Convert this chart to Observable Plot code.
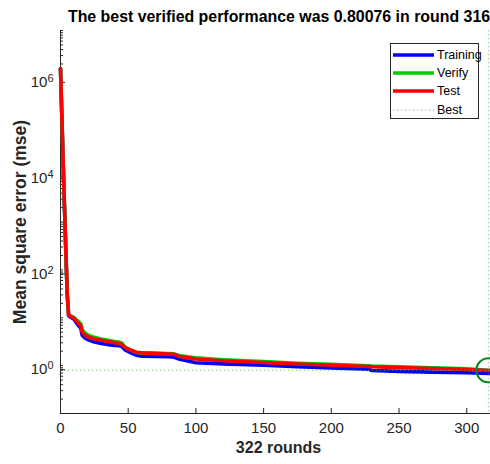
<!DOCTYPE html>
<html><head><meta charset="utf-8">
<script src="https://cdn.jsdelivr.net/npm/d3@7"></script>
<script src="https://cdn.jsdelivr.net/npm/@observablehq/plot@0.6"></script>
<style>
html,body{margin:0;padding:0;overflow:hidden;background:#fff;width:490px;height:464px}
#wrap{position:relative;width:500px;font-family:"Liberation Sans",Arial,sans-serif}
#title{height:28px;padding:8px 4px 0 62px;box-sizing:border-box;text-align:center;font-weight:bold;font-size:15.9px;line-height:18px;color:#000;white-space:nowrap}
#legend{position:absolute;left:390px;top:43px;width:89px;height:76px;border:1px solid #262626;background:#fff;box-sizing:border-box;font-size:12.5px;color:#000}
#legend .row{position:absolute;left:0;height:16px;width:88px}
#legend svg{position:absolute;left:2px;top:0}
#legend span{position:absolute;left:46px;top:0;line-height:16px;white-space:nowrap}
</style></head>
<body>
<div id="wrap">
  <div id="title">The best verified performance was 0.80076 in round 316</div>
  <div id="chart"></div>
  <div id="legend"></div>
</div>
<script>
// Data
const rounds   = [0, 1, 2, 3, 4, 5, 6, 8, 10, 11, 13, 15, 16, 18, 20, 25, 30, 35, 40, 43, 45, 48, 52, 56, 60, 70, 80, 84, 88, 95, 100, 120, 150, 175, 200, 228, 230, 250, 275, 300, 316, 322];
const training = [1.6e6, 1.6e5, 1.6e4, 1.8e3, 220, 30, 11, 10, 9.3, 8.4, 7.0, 6.0, 4.3, 3.8, 3.5, 3.1, 2.9, 2.75, 2.65, 2.6, 2.55, 2.1, 1.85, 1.65, 1.58, 1.55, 1.53, 1.5, 1.36, 1.24, 1.15, 1.09, 1.02, 0.95, 0.89, 0.84, 0.79, 0.76, 0.73, 0.71, 0.69, 0.69];
const verify   = [1.6e6, 1.6e5, 1.6e4, 1.8e3, 220, 30, 11.5, 10.8, 10.1, 9.4, 8.5, 7.5, 5.6, 4.9, 4.4, 3.9, 3.6, 3.4, 3.2, 3.1, 3.0, 2.4, 2.1, 1.88, 1.82, 1.8, 1.78, 1.76, 1.62, 1.52, 1.45, 1.33, 1.22, 1.12, 1.06, 0.99, 0.98, 0.95, 0.9, 0.86, 0.80076, 0.80];
const test     = [1.6e6, 1.6e5, 1.6e4, 1.8e3, 220, 30, 11.5, 10.5, 9.8, 9.0, 7.8, 6.8, 5.0, 4.4, 4.0, 3.6, 3.4, 3.2, 3.0, 2.9, 2.8, 2.35, 2.1, 1.9, 1.85, 1.8, 1.75, 1.72, 1.55, 1.45, 1.38, 1.26, 1.16, 1.08, 1.02, 0.96, 0.95, 0.91, 0.87, 0.83, 0.79, 0.78];
const seriesNames  = ["Training", "Verify", "Test"];
const seriesColors = ["#0000ff", "#00cc00", "#ff0000"];
const bestRound = 316;
const bestValue = 0.80076;
const totalRounds = 322;
const xTicks = [0, 50, 100, 150, 200, 250, 300];
const yExponents = [0, 2, 4, 6];
const yLabel = "Mean square error (mse)";
const xLabel = "322 rounds";

const seriesValues = [training, verify, test];
const rows = [];
seriesNames.forEach((name, i) => rounds.forEach((r, j) => rows.push({round: r, value: seriesValues[i][j], series: name})));

const majorY = yExponents.map(e => Math.pow(10, e));
const minorY = [];
for (let e = -1; e < 7; e++) for (let k = 1; k <= 9; k++) minorY.push(k * Math.pow(10, e));
minorY.push(1e7);

const axisColor = "#262626";
const chart = Plot.plot({
  width: 500, height: 436,
  marginTop: 2, marginBottom: 51, marginLeft: 60, marginRight: 4,
  style: {fontFamily: "'Liberation Sans', Arial, sans-serif", fontSize: "15px", color: axisColor, background: "white", overflow: "visible"},
  x: {domain: [0, totalRounds]},
  y: {type: "log", domain: [0.1, 1e7]},
  color: {domain: seriesNames, range: seriesColors},
  marks: [
    Plot.axisY(minorY, {tickSize: -3, tickFormat: () => "", stroke: axisColor, label: null}),
    Plot.axisY(majorY, {tickSize: -5, tickPadding: 12, dy: 4, tickFormat: d => "10^" + Math.round(Math.log10(d)), fill: axisColor, stroke: axisColor, label: null, fontSize: 15}),
    Plot.axisX(xTicks, {tickSize: -5, tickPadding: 14, fill: axisColor, stroke: axisColor, label: null, fontSize: 15}),
    Plot.ruleX([0], {stroke: axisColor}),
    Plot.ruleY([0.1], {stroke: axisColor}),
    Plot.line(rows, {x: "round", y: "value", z: "series", stroke: "series", strokeWidth: 3.6, strokeLinejoin: "round", strokeLinecap: "round"}),
    Plot.ruleY([bestValue], {stroke: "#3fb83f", strokeOpacity: 0.75, strokeDasharray: "1.2,2.8", strokeWidth: 1}),
    Plot.ruleX([bestRound], {stroke: "#3fb83f", strokeOpacity: 0.75, strokeDasharray: "1.2,2.8", strokeWidth: 1}),
    Plot.dot([{round: bestRound, value: bestValue}], {x: "round", y: "value", r: 12, stroke: "#0a8a1a", strokeWidth: 2.2, fill: "none"}),
    Plot.text([xLabel], {frameAnchor: "bottom", dy: 39, fontWeight: "bold", fontSize: 16, fill: "#262626"}),
    Plot.text([yLabel], {frameAnchor: "left", textAnchor: "middle", dx: -40, rotate: -90, fontWeight: "bold", fontSize: 17.5, fill: "#262626"})
  ]
});
document.getElementById("chart").appendChild(chart);

// Superscript exponents on the y tick labels
d3.select(chart).selectAll('g[aria-label="y-axis tick label"] text').each(function () {
  const t = this.textContent;
  if (!t.includes("^")) return;
  const [base, exp] = t.split("^");
  const sel = d3.select(this);
  sel.text(null);
  sel.append("tspan").text(base);
  sel.append("tspan").attr("dy", "-5").attr("font-size", "11px").text(exp);
});

// Legend
const legend = document.getElementById("legend");
const legendItems = seriesNames.map((n, i) => ({name: n, color: seriesColors[i], dash: null}))
  .concat([{name: "Best", color: "#3fb83f", dash: "1.2,2.8"}]);
const rowTops = [3, 21, 39, 58];
legendItems.forEach((it, i) => {
  const row = document.createElement("div");
  row.className = "row";
  row.style.top = rowTops[i] + "px";
  const w = it.dash ? 1 : 3.5;
  row.innerHTML = `<svg width="42" height="16"><line x1="0" x2="41" y1="8" y2="8" stroke="${it.color}" stroke-width="${w}" ${it.dash ? `stroke-dasharray="${it.dash}" stroke-opacity="0.8"` : ""}/></svg><span>${it.name}</span>`;
  legend.appendChild(row);
});
</script>
</body></html>
